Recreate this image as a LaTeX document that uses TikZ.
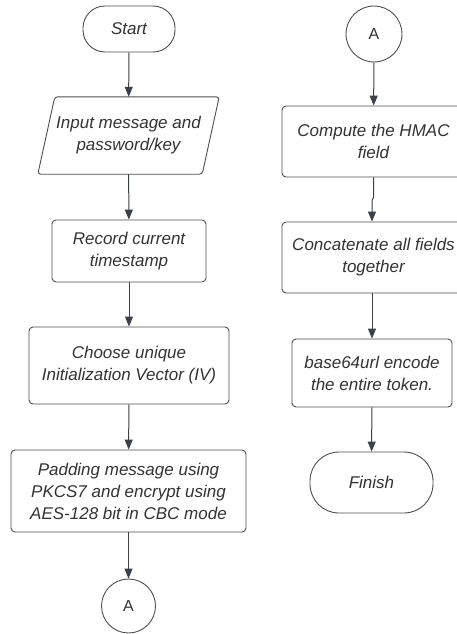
\documentclass[tikz,border=0pt]{standalone}
\usepackage{fontspec}
\setmainfont{Liberation Sans}
\usetikzlibrary{arrows.meta}
\definecolor{edgecol}{HTML}{4F4F4F}
\definecolor{linecol}{HTML}{3A414A}
\definecolor{txtcol}{HTML}{333333}
\tikzset{
  lbl/.style={text=txtcol, font=\fontsize{17}{22}\selectfont\itshape, align=center, inner sep=0pt},
  procbox/.style={lbl, draw=edgecol, line width=0.9pt, rounded corners=4pt},
  termbox/.style={lbl, draw=edgecol, line width=0.9pt},
  connbox/.style={lbl, circle, draw=edgecol, line width=0.9pt, font=\fontsize{16}{20}\selectfont},
  flow/.style={draw=linecol, line width=1pt, -{Triangle[length=10pt,width=8pt]}}
}
\begin{document}
\begin{tikzpicture}[x=1pt, y=-1pt]
\useasboundingbox[fill=white] (0,0) rectangle (457,634);

% left column
\node[termbox, minimum width=92pt, minimum height=46pt, rounded corners=22pt] (start) at (129,29) {Start};
\node[lbl, minimum width=164pt, minimum height=77pt] (inp) at (128.5,135.5) {Input message and\\password/key};
\draw[draw=edgecol, line width=0.9pt, rounded corners=3pt]
  ([xshift=8.5pt]inp.north west) -- ([xshift=8.5pt]inp.north east)
  -- ([xshift=-8.5pt]inp.south east) -- ([xshift=-8.5pt]inp.south west) -- cycle;
\node[procbox, minimum width=154pt, minimum height=62pt] (rec) at (129,251) {Record current\\timestamp};
\node[procbox, minimum width=200pt, minimum height=77pt] (cho) at (129,365.5) {Choose unique\\Initialization Vector (IV)};
\node[procbox, minimum width=235pt, minimum height=82pt] (pad) at (128.5,491) {Padding message using\\PKCS7 and encrypt using\\AES-128 bit in CBC mode};
\node[connbox, minimum size=54pt] (offA) at (128.5,606) {A};

% right column
\node[connbox, minimum size=56pt] (onA) at (374,34) {A};
\node[procbox, minimum width=183pt, minimum height=71pt] (hmac) at (373.5,141.5) {Compute the HMAC\\field};
\node[procbox, minimum width=183pt, minimum height=71pt] (cat) at (373.5,257.5) {Concatenate all fields\\together};
\node[procbox, minimum width=160pt, minimum height=68pt] (enc) at (372,373) {base64url encode\\the entire token.};
\node[termbox, minimum width=123pt, minimum height=61pt, rounded corners=29pt] (fin) at (371.5,482.5) {Finish};

% connectors
\draw[flow] (start) -- (inp);
\draw[flow] (inp) -- (rec);
\draw[flow] (rec) -- (cho);
\draw[flow] (cho) -- (pad);
\draw[flow] (pad) -- (offA);
\draw[flow] (onA) -- (hmac);
\draw[flow] (hmac.south) -- ++(0,20) -- ++(-1.5,3) -- ([xshift=-1.5pt]cat.north);
\draw[flow] (cat.south -| enc.north) -- (enc.north);
\draw[flow] (enc) -- (fin);
\end{tikzpicture}
\end{document}
